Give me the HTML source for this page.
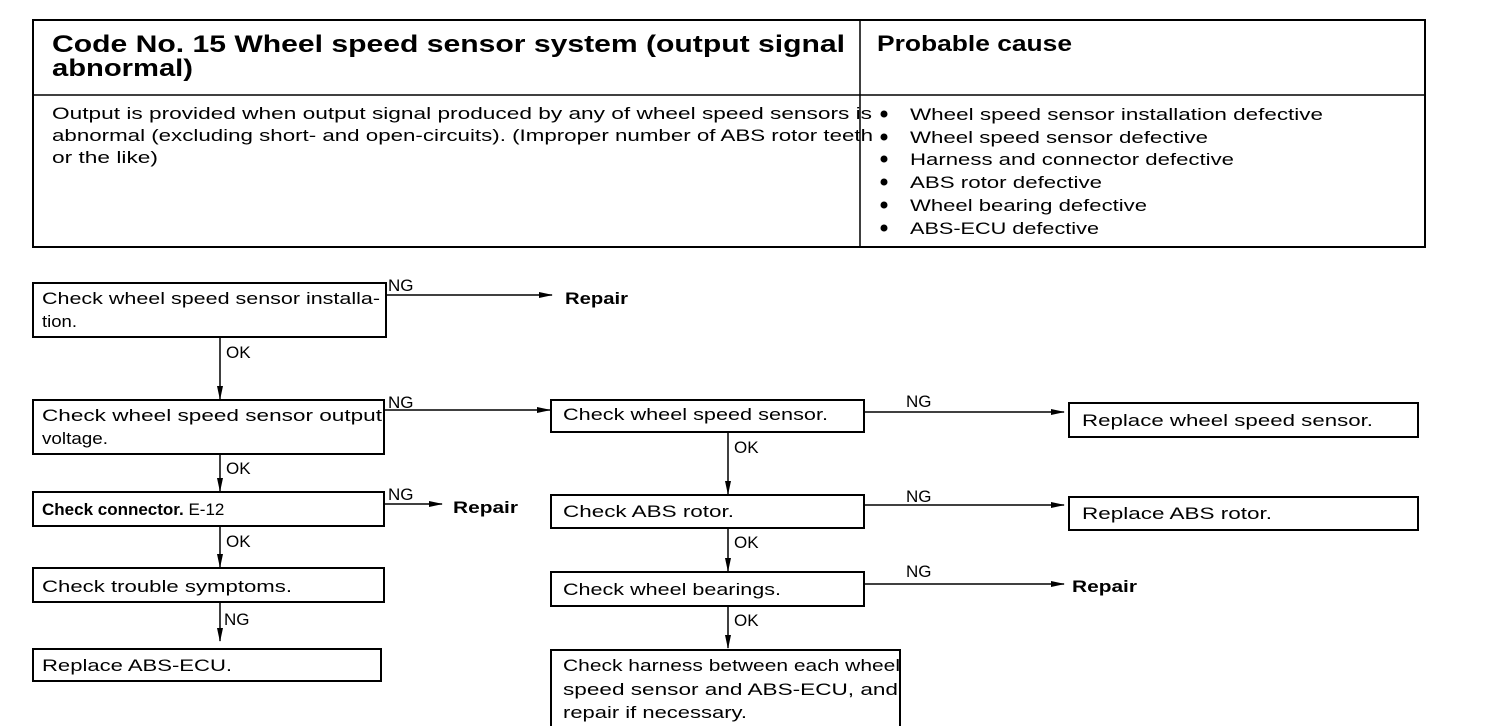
<!DOCTYPE html>
<html><head><meta charset="utf-8"><style>
html,body{margin:0;padding:0;background:#fff;}
svg{display:block;}
text{font-family:"Liberation Sans",Arial,sans-serif;fill:#000;}
.t{font-size:17px;}
.b{font-weight:bold;}
</style></head><body>
<svg width="1504" height="726" viewBox="0 0 1504 726" xmlns="http://www.w3.org/2000/svg">
<defs><marker id="a" markerWidth="14" markerHeight="8" refX="13" refY="4" orient="auto" markerUnits="userSpaceOnUse"><path d="M0,1 L14,4 L0,7 z" fill="#000"/></marker></defs>
<g fill="none" stroke="#000">
<rect x="33" y="20" width="1392" height="227" stroke-width="2"/>
<line x1="33" y1="95" x2="1425" y2="95" stroke-width="1.5"/>
<line x1="860" y1="20" x2="860" y2="247" stroke-width="1.5"/>
<rect x="33" y="283" width="353" height="54" stroke-width="2"/>
<rect x="33" y="400" width="351" height="54" stroke-width="2"/>
<rect x="33" y="492" width="351" height="34" stroke-width="2"/>
<rect x="33" y="568" width="351" height="34" stroke-width="2"/>
<rect x="33" y="649" width="348" height="32" stroke-width="2"/>
<rect x="551" y="400" width="313" height="32" stroke-width="2"/>
<rect x="551" y="495" width="313" height="33" stroke-width="2"/>
<rect x="551" y="572" width="313" height="34" stroke-width="2"/>
<path d="M551,726 L551,650 L900,650 L900,726" stroke-width="2"/>
<rect x="1069" y="403" width="349" height="34" stroke-width="2"/>
<rect x="1069" y="497" width="349" height="33" stroke-width="2"/>
<g stroke-width="1.5" marker-end="url(#a)">
<line x1="386" y1="295" x2="552" y2="295"/>
<line x1="384" y1="410" x2="550" y2="410"/>
<line x1="384" y1="504" x2="442" y2="504"/>
<line x1="864" y1="412" x2="1064" y2="412"/>
<line x1="864" y1="505" x2="1064" y2="505"/>
<line x1="864" y1="584" x2="1064" y2="584"/>
<line x1="220" y1="337" x2="220" y2="399"/>
<line x1="220" y1="454" x2="220" y2="491"/>
<line x1="220" y1="526" x2="220" y2="567"/>
<line x1="220" y1="602" x2="220" y2="641"/>
<line x1="728" y1="432" x2="728" y2="494"/>
<line x1="728" y1="528" x2="728" y2="571"/>
<line x1="728" y1="606" x2="728" y2="648"/>
</g>
</g>
<text x="52" y="52" class="b" font-size="24" textLength="793" lengthAdjust="spacingAndGlyphs">Code No. 15 Wheel speed sensor system (output signal</text>
<text x="52" y="76" class="b" font-size="24" textLength="141" lengthAdjust="spacingAndGlyphs">abnormal)</text>
<text x="877" y="51" class="b" font-size="22" textLength="195" lengthAdjust="spacingAndGlyphs">Probable cause</text>
<text x="52" y="119" class="t" textLength="820" lengthAdjust="spacingAndGlyphs">Output is provided when output signal produced by any of wheel speed sensors is</text>
<text x="52" y="141" class="t" textLength="821" lengthAdjust="spacingAndGlyphs">abnormal (excluding short- and open-circuits). (Improper number of ABS rotor teeth</text>
<text x="52" y="163" class="t" textLength="106" lengthAdjust="spacingAndGlyphs">or the like)</text>
<g fill="#000"><circle cx="884" cy="114" r="3.5"/><circle cx="884" cy="137" r="3.5"/><circle cx="884" cy="159" r="3.5"/><circle cx="884" cy="182" r="3.5"/><circle cx="884" cy="205" r="3.5"/><circle cx="884" cy="228" r="3.5"/></g>
<text x="910" y="120" class="t" textLength="413" lengthAdjust="spacingAndGlyphs">Wheel speed sensor installation defective</text>
<text x="910" y="143" class="t" textLength="298" lengthAdjust="spacingAndGlyphs">Wheel speed sensor defective</text>
<text x="910" y="165" class="t" textLength="324" lengthAdjust="spacingAndGlyphs">Harness and connector defective</text>
<text x="910" y="188" class="t" textLength="192" lengthAdjust="spacingAndGlyphs">ABS rotor defective</text>
<text x="910" y="211" class="t" textLength="237" lengthAdjust="spacingAndGlyphs">Wheel bearing defective</text>
<text x="910" y="234" class="t" textLength="189" lengthAdjust="spacingAndGlyphs">ABS-ECU defective</text>

<text x="42" y="304" class="t" textLength="338" lengthAdjust="spacingAndGlyphs">Check wheel speed sensor installa-</text>
<text x="42" y="327" class="t" textLength="35" lengthAdjust="spacingAndGlyphs">tion.</text>
<text x="42" y="421" class="t" textLength="340" lengthAdjust="spacingAndGlyphs">Check wheel speed sensor output</text>
<text x="42" y="444" class="t" textLength="66" lengthAdjust="spacingAndGlyphs">voltage.</text>
<text x="42" y="515" class="t"><tspan class="b">Check connector.</tspan> E-12</text>
<text x="42" y="592" class="t" textLength="250" lengthAdjust="spacingAndGlyphs">Check trouble symptoms.</text>
<text x="42" y="671" class="t" textLength="190" lengthAdjust="spacingAndGlyphs">Replace ABS-ECU.</text>
<text x="563" y="420" class="t" textLength="265" lengthAdjust="spacingAndGlyphs">Check wheel speed sensor.</text>
<text x="1082" y="426" class="t" textLength="291" lengthAdjust="spacingAndGlyphs">Replace wheel speed sensor.</text>
<text x="563" y="517" class="t" textLength="171" lengthAdjust="spacingAndGlyphs">Check ABS rotor.</text>
<text x="1082" y="519" class="t" textLength="190" lengthAdjust="spacingAndGlyphs">Replace ABS rotor.</text>
<text x="563" y="595" class="t" textLength="218" lengthAdjust="spacingAndGlyphs">Check wheel bearings.</text>
<text x="563" y="671" class="t" textLength="337" lengthAdjust="spacingAndGlyphs">Check harness between each wheel</text>
<text x="563" y="695" class="t" textLength="335" lengthAdjust="spacingAndGlyphs">speed sensor and ABS-ECU, and</text>
<text x="563" y="718" class="t" textLength="184" lengthAdjust="spacingAndGlyphs">repair if necessary.</text>

<text x="565" y="304" class="t b" textLength="63" lengthAdjust="spacingAndGlyphs">Repair</text>
<text x="453" y="513" class="t b" textLength="65" lengthAdjust="spacingAndGlyphs">Repair</text>
<text x="1072" y="592" class="t b" textLength="65" lengthAdjust="spacingAndGlyphs">Repair</text>

<text x="388" y="291" class="t">NG</text>
<text x="388" y="408" class="t">NG</text>
<text x="388" y="500" class="t">NG</text>
<text x="906" y="407" class="t">NG</text>
<text x="906" y="502" class="t">NG</text>
<text x="906" y="577" class="t">NG</text>
<text x="226" y="358" class="t">OK</text>
<text x="226" y="474" class="t">OK</text>
<text x="226" y="547" class="t">OK</text>
<text x="224" y="625" class="t">NG</text>
<text x="734" y="453" class="t">OK</text>
<text x="734" y="548" class="t">OK</text>
<text x="734" y="626" class="t">OK</text>
</svg>
</body></html>
